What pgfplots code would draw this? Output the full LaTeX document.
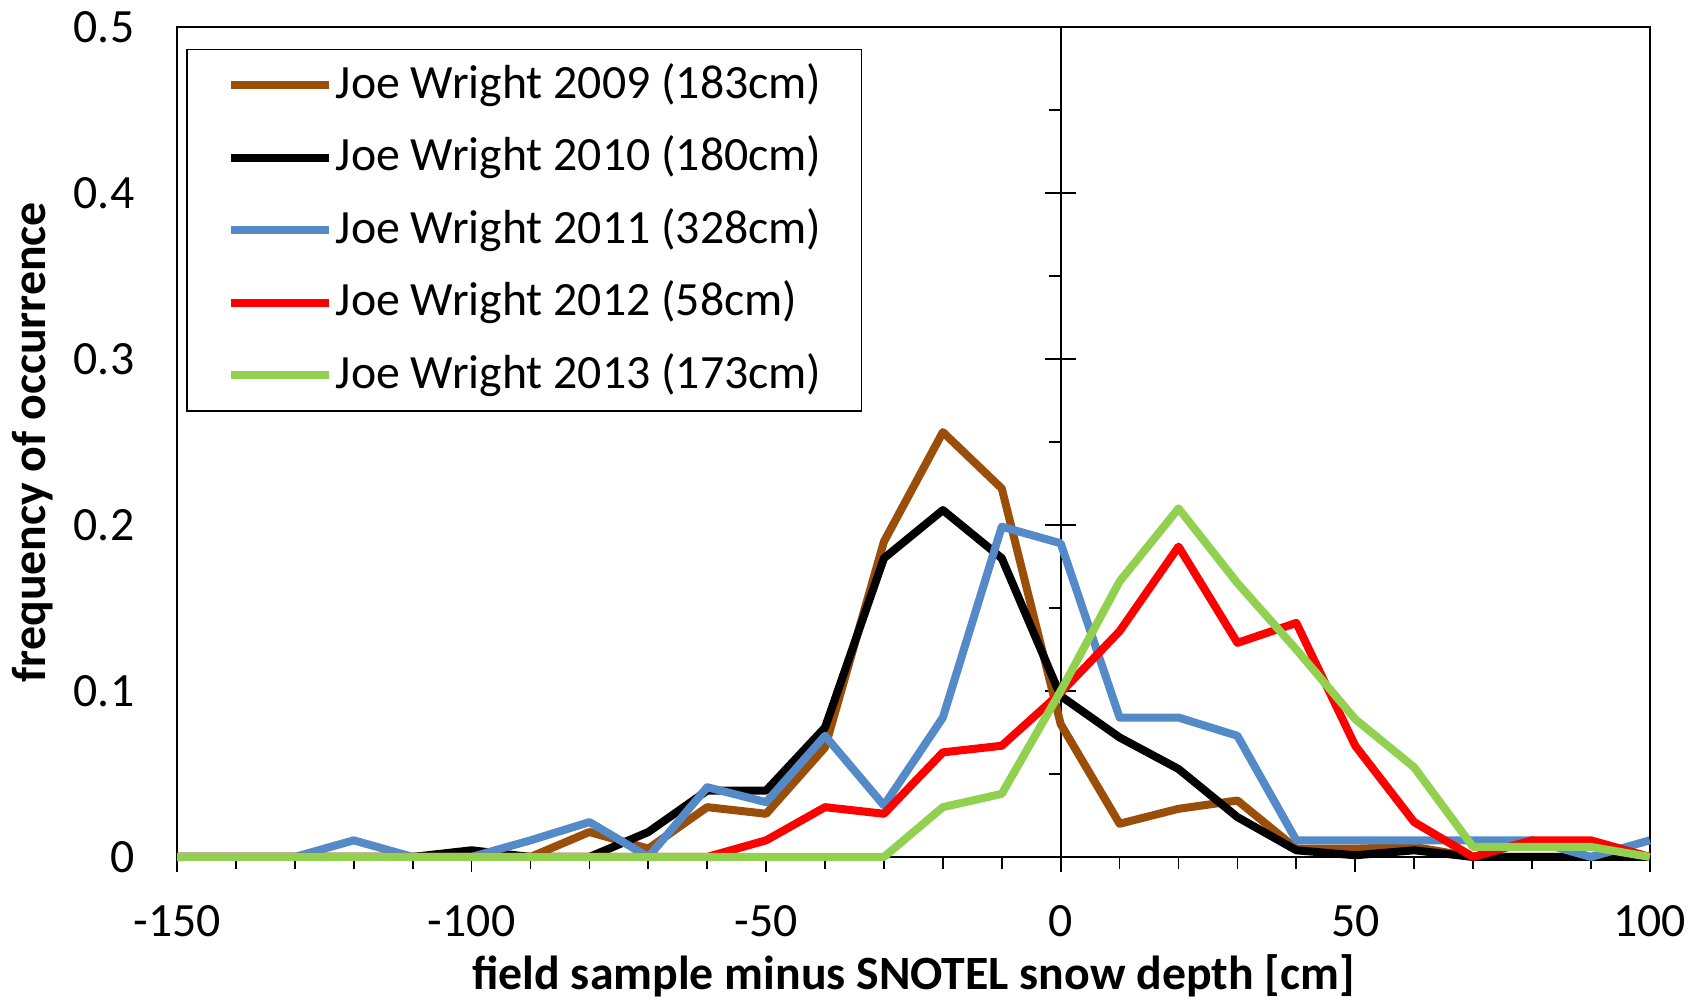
\documentclass[border=0pt]{standalone}
\usepackage{pgfplots}
\usepackage{pgfplotstable}
\pgfplotsset{compat=1.18}
\usepackage{fontspec}
\setmainfont{Carlito}
\definecolor{cbrown}{RGB}{155,78,10}
\definecolor{cblue}{RGB}{85,138,200}
\definecolor{cred}{RGB}{255,0,0}
\definecolor{cgreen}{RGB}{146,208,80}
\pgfplotstableread{
x     a      b      c      d      e
-150  0      0      0      0      0
-140  0      0      0      0      0
-130  0      0      0      0      0
-120  0      0      0.010  0      0
-110  0      0      0      0      0
-100  0      0.004  0      0      0
-90   0      0      0.010  0      0
-80   0.015  0      0.021  0      0
-70   0.005  0.015  0      0      0
-60   0.030  0.040  0.042  0      0
-50   0.026  0.040  0.033  0.010  0
-40   0.066  0.078  0.073  0.030  0
-30   0.190  0.180  0.031  0.026  0
-20   0.256  0.209  0.084  0.063  0.030
-10   0.222  0.180  0.199  0.067  0.038
0     0.080  0.097  0.189  0.099  0.100
10    0.020  0.072  0.084  0.136  0.166
20    0.029  0.053  0.084  0.187  0.210
30    0.034  0.024  0.073  0.129  0.165
40    0.005  0.004  0.010  0.141  0.125
50    0.005  0.001  0.010  0.067  0.083
60    0.006  0.004  0.010  0.021  0.054
70    0      0      0.010  0      0.006
80    0      0      0.010  0.010  0.006
90    0      0      0      0.010  0.006
100   0      0      0.010  0      0
}\data
\begin{document}
\fontsize{22}{26}\selectfont
\begin{tikzpicture}
\useasboundingbox (-81.5pt,-66.5pt) rectangle (702.5pt,394.5pt);
\begin{axis}[
  at={(0pt,0pt)}, anchor=south west,
  scale only axis, width=678pt, height=382pt,
  xmin=-150, xmax=100, ymin=0, ymax=0.5,
  clip=false,
  axis line style={line width=0.8pt},
  every tick/.style={black, line width=0.8pt},
  xtick={-150,-100,-50,0,50,100},
  xticklabels={-150,-100,-50,0,50,100},
  minor x tick num=4,
  xtick pos=bottom, ytick pos=left,
  tick align=outside,
  major tick length=7pt, minor tick length=5.5pt,
  ytick={0,0.1,0.2,0.3,0.4,0.5},
  yticklabels={0,0.1,0.2,0.3,0.4,0.5},
  ytick style={draw=none},
  xticklabel style={inner sep=0pt, anchor=north, yshift=-15pt},
  yticklabel style={inner sep=0pt, anchor=east, xshift=-12.5pt},
  xlabel={\bfseries field sample minus SNOTEL snow depth [cm]},
  ylabel={\bfseries frequency of occurrence},
  xlabel style={at={(axis description cs:0.5,-0.143)}, anchor=center},
  ylabel style={at={(axis description cs:-0.098,0.5)}, anchor=center},
  legend cell align=left,
  legend style={at={(0.0060,0.974)}, anchor=north west, draw=black, line width=0.8pt,
    inner xsep=18.5pt, inner ysep=6.5pt, row sep=13.35pt, column sep=1.5pt,
    nodes={inner sep=0pt, text height=16pt, text depth=4pt}},
  legend image code/.code={\draw[#1] (0pt,0pt) -- (45pt,0pt);},
  every axis plot/.append style={line width=3.7pt, line join=round},
]
\draw[line width=0.8pt] (axis cs:0,0) -- (axis cs:0,0.5);
\draw[line width=0.8pt] (axis cs:0,0.05) -- ++(-5.5pt,0pt);
\draw[line width=0.8pt] (axis cs:0,0.15) -- ++(-5.5pt,0pt);
\draw[line width=0.8pt] (axis cs:0,0.25) -- ++(-5.5pt,0pt);
\draw[line width=0.8pt] (axis cs:0,0.35) -- ++(-5.5pt,0pt);
\draw[line width=0.8pt] (axis cs:0,0.45) -- ++(-5.5pt,0pt);
\draw[line width=0.8pt] ([xshift=-7pt]axis cs:0,0.1) -- ++(14pt,0pt);
\draw[line width=0.8pt] ([xshift=-7pt]axis cs:0,0.2) -- ++(14pt,0pt);
\draw[line width=0.8pt] ([xshift=-7pt]axis cs:0,0.3) -- ++(14pt,0pt);
\draw[line width=0.8pt] ([xshift=-7pt]axis cs:0,0.4) -- ++(14pt,0pt);
\addplot[cbrown] table[x=x,y=a]{\data};
\addlegendentry{Joe Wright 2009 (183cm)}
\addplot[black] table[x=x,y=b]{\data};
\addlegendentry{Joe Wright 2010 (180cm)}
\addplot[cblue] table[x=x,y=c]{\data};
\addlegendentry{Joe Wright 2011 (328cm)}
\addplot[cred] table[x=x,y=d]{\data};
\addlegendentry{Joe Wright 2012 (58cm)}
\addplot[cgreen] table[x=x,y=e]{\data};
\addlegendentry{Joe Wright 2013 (173cm)}
\end{axis}
\end{tikzpicture}
\end{document}
